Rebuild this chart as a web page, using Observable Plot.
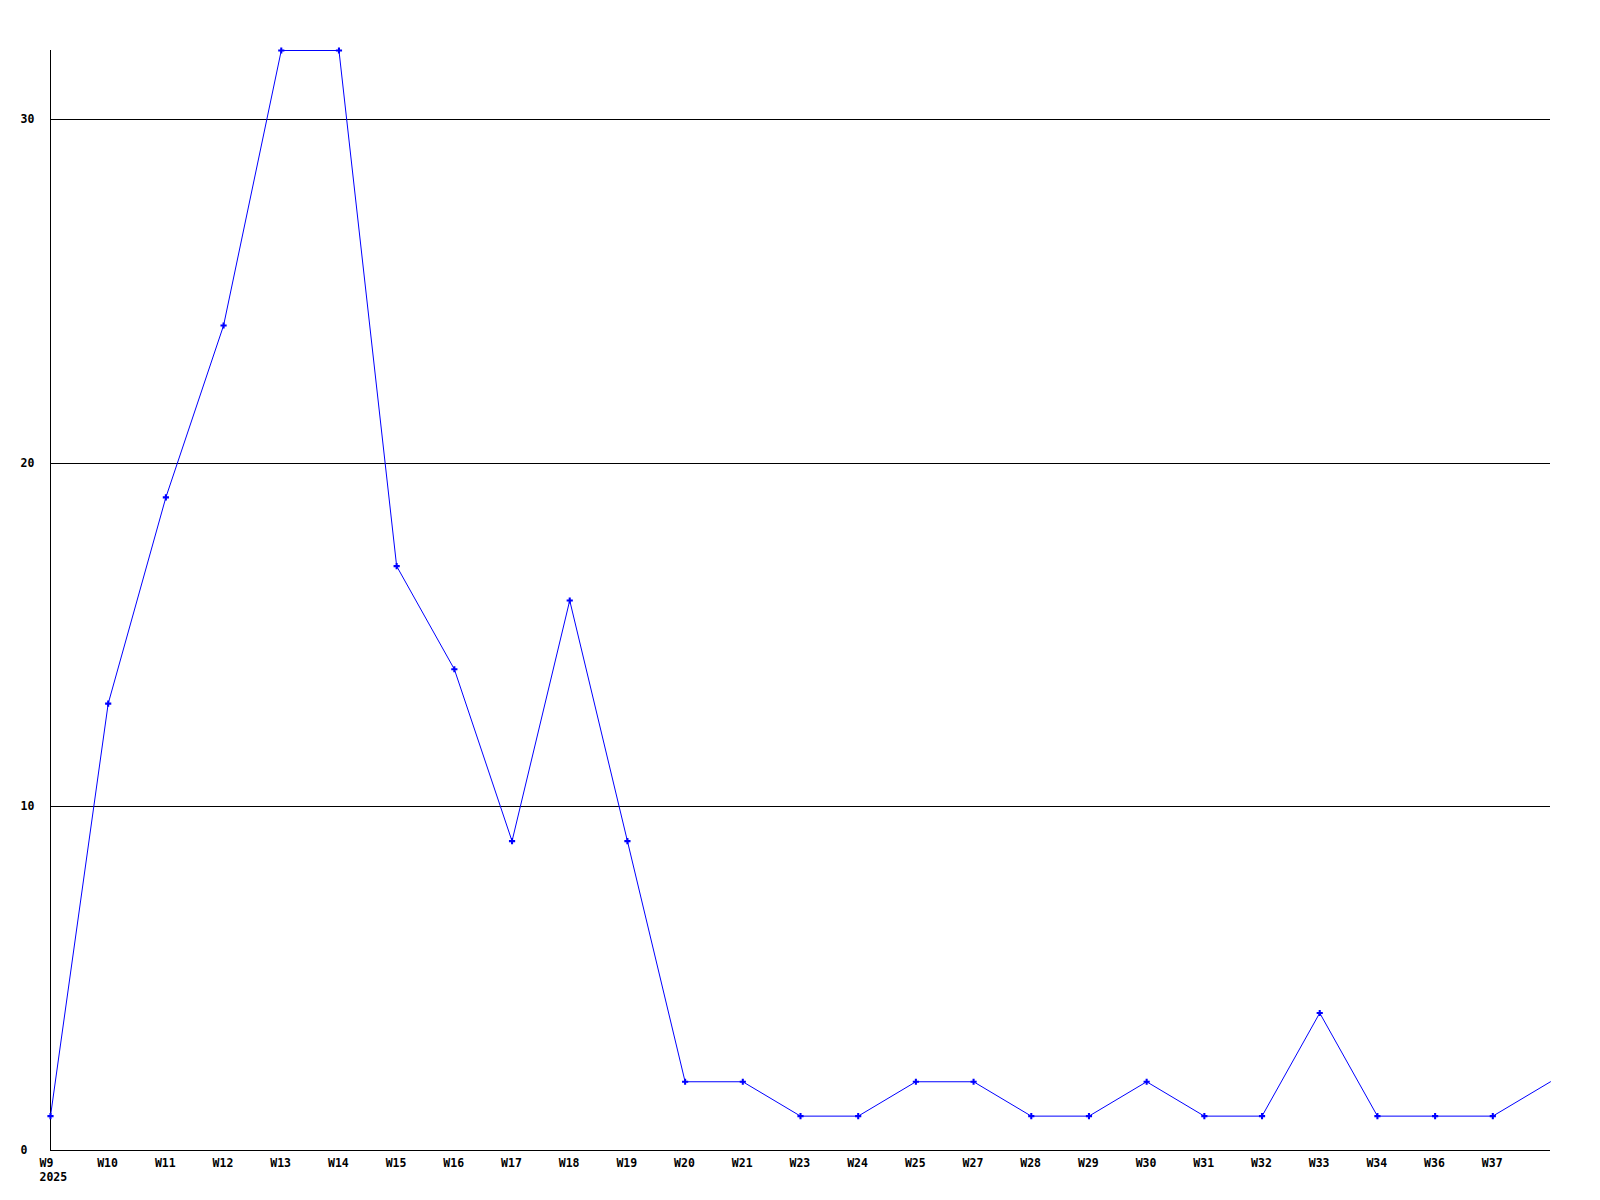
<!DOCTYPE html>
<html>
<head>
<meta charset="utf-8">
<script src="https://cdn.jsdelivr.net/npm/d3@7"></script>
<script src="https://cdn.jsdelivr.net/npm/@observablehq/plot@0.6"></script>
<style>
  html, body { margin: 0; padding: 0; background: #fff; }
  svg { display: block; }
</style>
</head>
<body>
<div id="chart"></div>
<script>
const weeks = ["W9","W10","W11","W12","W13","W14","W15","W16","W17","W18","W19","W20","W21","W23","W24","W25","W27","W28","W29","W30","W31","W32","W33","W34","W36","W37",""];
const counts = [1,13,19,24,32,32,17,14,9,16,9,2,2,1,1,2,2,1,1,2,1,1,4,1,1,1,2];
const yearLabel = "2025";
const yTicks = [0,10,20,30];
const gridValues = [10,20,30];

const data = weeks.map((w, i) => ({i, week: w, count: counts[i]}));
const labelled = data.filter(d => d.week !== "");

const font = "'DejaVu Sans Mono', 'Liberation Mono', monospace";

const chart = Plot.plot({
  width: 1600,
  height: 1200,
  marginLeft: 50,
  marginRight: 50,
  marginTop: 50,
  marginBottom: 50,
  style: {fontFamily: font, fontSize: "11.5px", fontWeight: "bold", background: "#fff", color: "#000"},
  x: {type: "linear", domain: [0, weeks.length - 1]},
  y: {domain: [0, 32]},
  marks: [
    Plot.ruleY(gridValues, {stroke: "#000", strokeWidth: 1, shapeRendering: "crispEdges"}),
    Plot.ruleY([0], {stroke: "#000", strokeWidth: 1, shapeRendering: "crispEdges"}),
    Plot.ruleX([0], {y1: 0, y2: 32, stroke: "#000", strokeWidth: 1, shapeRendering: "crispEdges"}),
    Plot.axisY({ticks: yTicks, tickSize: 0, tickPadding: 30, textAnchor: "start", label: null, fill: "#000"}),
    Plot.axisX({ticks: labelled.map(d => d.i), tickFormat: i => weeks[i], tickSize: 0, tickPadding: 8, textAnchor: "start", dx: -11, label: null, fill: "#000"}),
    Plot.text([yearLabel], {x: 0, y: 0, text: d => d, textAnchor: "start", dx: -11, dy: 27, fill: "#000", fontWeight: "bold", fontSize: 11.5}),
    Plot.line(data, {x: "i", y: "count", stroke: "#0000ff", strokeWidth: 1}),
    Plot.dot(labelled, {x: "i", y: "count", symbol: "cross", r: 2.6, fill: "#0000ff", stroke: "none"})
  ]
});
document.getElementById("chart").appendChild(chart);
</script>
</body>
</html>
